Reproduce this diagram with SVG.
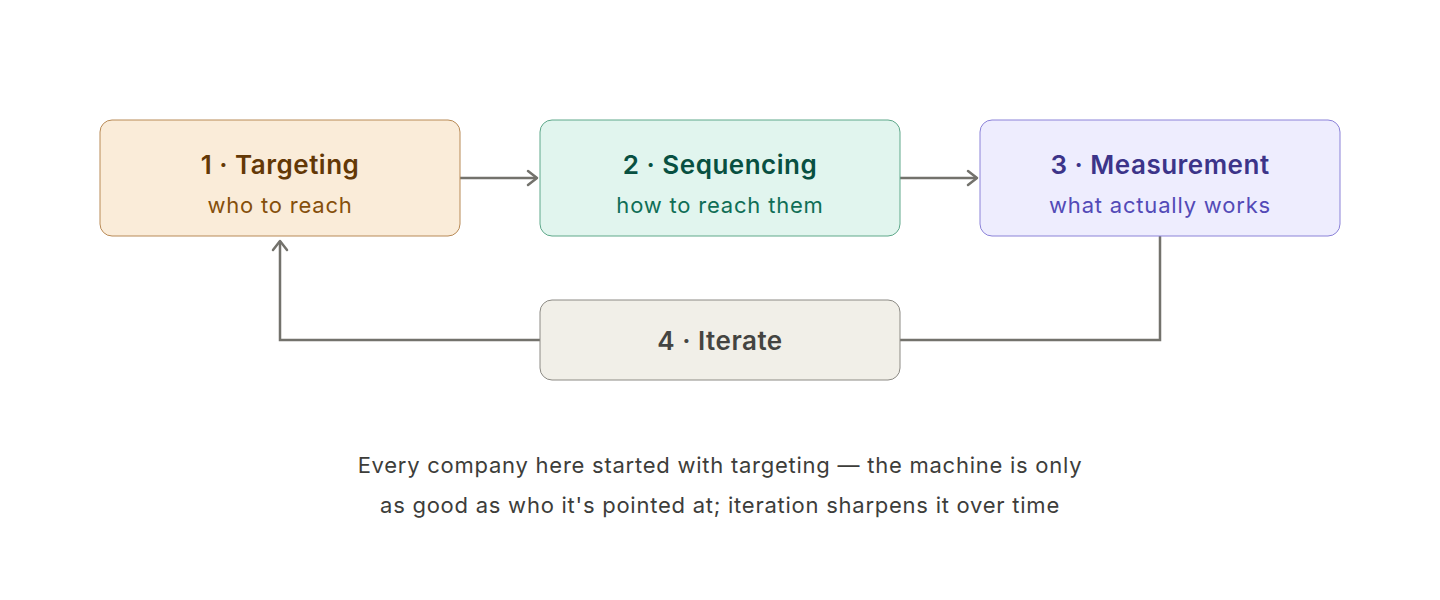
<svg xmlns="http://www.w3.org/2000/svg" width="1440" height="600" viewBox="0 0 1440 600">
<style>
.t{font-family:Inter,"Noto Sans",sans-serif;font-size:26px;font-weight:600;text-anchor:middle;letter-spacing:0.5px}
.s{font-family:Inter,"Noto Sans",sans-serif;font-size:22px;font-weight:400;text-anchor:middle;letter-spacing:0.8px}
.c{font-family:Inter,"Noto Sans",sans-serif;font-size:22px;fill:#3d3d3a;text-anchor:middle;letter-spacing:0.75px}
.e{fill:none;stroke:#73726c;stroke-width:2.5}
</style>
<defs>
<marker id="a" viewBox="-12 -10 14 20" refX="0" refY="0" markerWidth="14" markerHeight="20" markerUnits="userSpaceOnUse" orient="auto" overflow="visible">
<path d="M-9,-7 L0,0 L-9,7" fill="none" stroke="#73726c" stroke-width="2.5" stroke-linecap="round" stroke-linejoin="round"/>
</marker>
</defs>
<rect width="1440" height="600" fill="#ffffff"/>
<g id="connectors">
<path class="e" d="M460,178 L537,178" marker-end="url(#a)"/>
<path class="e" d="M900,178 L977,178" marker-end="url(#a)"/>
<path class="e" d="M1160,236 L1160,340 L900,340"/>
<path class="e" d="M540,340 L280,340 L280,241" marker-end="url(#a)"/>
</g>
<g id="n1">
<rect x="100" y="120" width="360" height="116" rx="12" fill="#faecd9" stroke="#b88a56" stroke-width="1"/>
<text class="t" x="280" y="174" fill="#633806">1 · Targeting</text>
<text class="s" x="280" y="213" fill="#854f0b">who to reach</text>
</g>
<g id="n2">
<rect x="540" y="120" width="360" height="116" rx="12" fill="#e1f5ee" stroke="#5ea88a" stroke-width="1"/>
<text class="t" x="720" y="174" fill="#085041">2 · Sequencing</text>
<text class="s" x="720" y="213" fill="#0f6e56">how to reach them</text>
</g>
<g id="n3">
<rect x="980" y="120" width="360" height="116" rx="12" fill="#eeedfe" stroke="#8b82d8" stroke-width="1"/>
<text class="t" x="1160" y="174" fill="#3c3489">3 · Measurement</text>
<text class="s" x="1160" y="213" fill="#534ab7">what actually works</text>
</g>
<g id="n4">
<rect x="540" y="300" width="360" height="80" rx="12" fill="#f1efe8" stroke="#8c8a84" stroke-width="1"/>
<text class="t" x="720" y="350" fill="#444441">4 · Iterate</text>
</g>
<g id="caption">
<text class="c" x="720" y="473">Every company here started with targeting — the machine is only</text>
<text class="c" x="720" y="513">as good as who it's pointed at; iteration sharpens it over time</text>
</g>
</svg>
